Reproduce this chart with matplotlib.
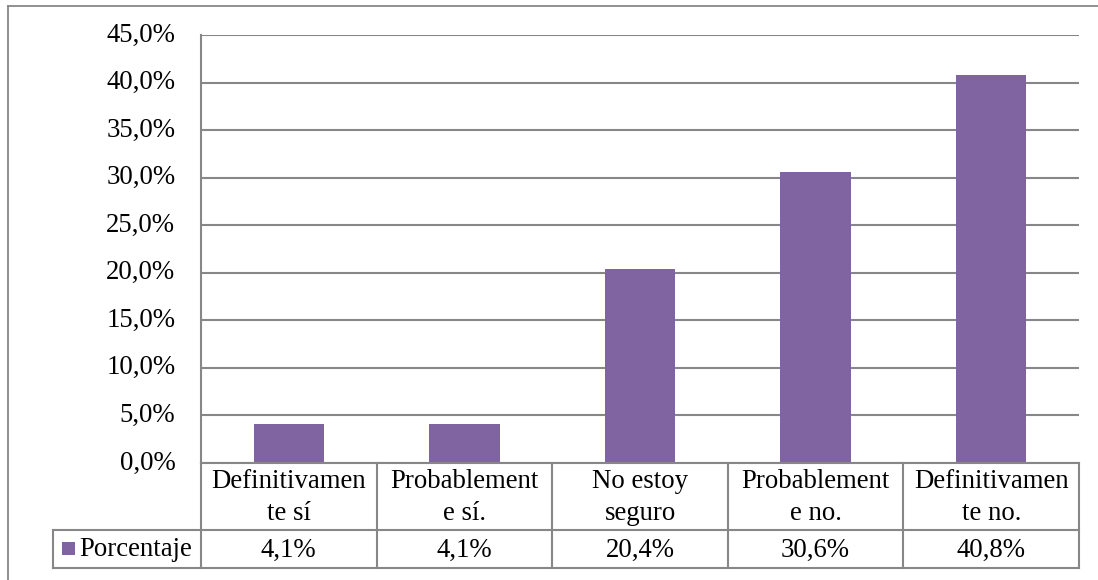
import matplotlib.pyplot as plt
from matplotlib.patches import Rectangle
from matplotlib.lines import Line2D

categories = ["Definitivamen\nte sí", "Probablement\ne sí.", "No estoy\nseguro",
              "Probablement\ne no.", "Definitivamen\nte no."]
values = [4.1, 4.1, 20.4, 30.6, 40.8]
value_labels = ["4,1%", "4,1%", "20,4%", "30,6%", "40,8%"]
series_name = "Porcentaje"
yticks = [0, 5, 10, 15, 20, 25, 30, 35, 40, 45]

W, H = 1098, 580
BAR = "#8064A2"
GRID = "#878787"
FS = 19.3
FONT = ["Liberation Serif", "DejaVu Serif"]

fig = plt.figure(figsize=(W / 100, H / 100), dpi=100)
fig.patch.set_facecolor("white")


def fx(px):
    return px / W


def fy(py):
    return 1 - py / H


# plot area in pixel coordinates
L, R, T, B = 201, 1079, 35, 463
ax = fig.add_axes([fx(L), fy(B), fx(R) - fx(L), fy(T) - fy(B)])
ax.set_xlim(0, len(values))
ax.set_ylim(0, 45)

ax.bar([i + 0.5 for i in range(len(values))], values, width=0.4,
       color=BAR, zorder=3)

ax.set_yticks(yticks)
ax.set_yticklabels([f"{v:.1f}%".replace(".", ",") for v in yticks],
                   fontsize=FS, family=FONT)
ax.tick_params(axis="y", length=0, pad=18.5)
ax.tick_params(axis="x", length=0, labelbottom=False)
ax.set_xticks([])
ax.yaxis.grid(True, color=GRID, linewidth=1.5)
ax.set_axisbelow(True)
for s in ["top", "right", "bottom"]:
    ax.spines[s].set_visible(False)
ax.spines["left"].set_color(GRID)
ax.spines["left"].set_linewidth(1.5)
for lab in ax.get_yticklabels():
    lab.set_verticalalignment("center")

# outer chart border (left and top edges)
fig.add_artist(Line2D([fx(8), fx(8)], [fy(6), 0], color=GRID, lw=1.3))
fig.add_artist(Line2D([fx(8), 1], [fy(6), fy(6)], color=GRID, lw=1.3))

# data table under the plot area
row1_bot, row2_bot = 530, 568
leg_left = 53
colw = (R - L) / len(values)


def hline(x0, x1, y):
    fig.add_artist(Line2D([fx(x0), fx(x1)], [fy(y), fy(y)], color=GRID, lw=1.5))


def vline(x, y0, y1):
    fig.add_artist(Line2D([fx(x), fx(x)], [fy(y0), fy(y1)], color=GRID, lw=1.5))


hline(L, R, B)
hline(leg_left, R, row1_bot)
hline(leg_left, R, row2_bot)
vline(leg_left, row1_bot, row2_bot)
for i in range(len(values) + 1):
    vline(L + i * colw, B, row2_bot)

for i, (cat, lab) in enumerate(zip(categories, value_labels)):
    cx = L + (i + 0.5) * colw
    fig.text(fx(cx), fy((B + row1_bot) / 2 + 1), cat, ha="center", va="center",
             fontsize=FS, family=FONT, linespacing=1.42)
    fig.text(fx(cx), fy((row1_bot + row2_bot) / 2 + 1), lab, ha="center",
             va="center", fontsize=FS, family=FONT)

# legend key inside the first cell
fig.add_artist(Rectangle((fx(62), fy(555)), fx(13), fy(542) - fy(555),
                         facecolor=BAR, edgecolor="none"))
fig.text(fx(79), fy((row1_bot + row2_bot) / 2 + 1), series_name, ha="left",
         va="center", fontsize=FS, family=FONT)

fig.savefig("out.png", dpi=100, facecolor="white")
